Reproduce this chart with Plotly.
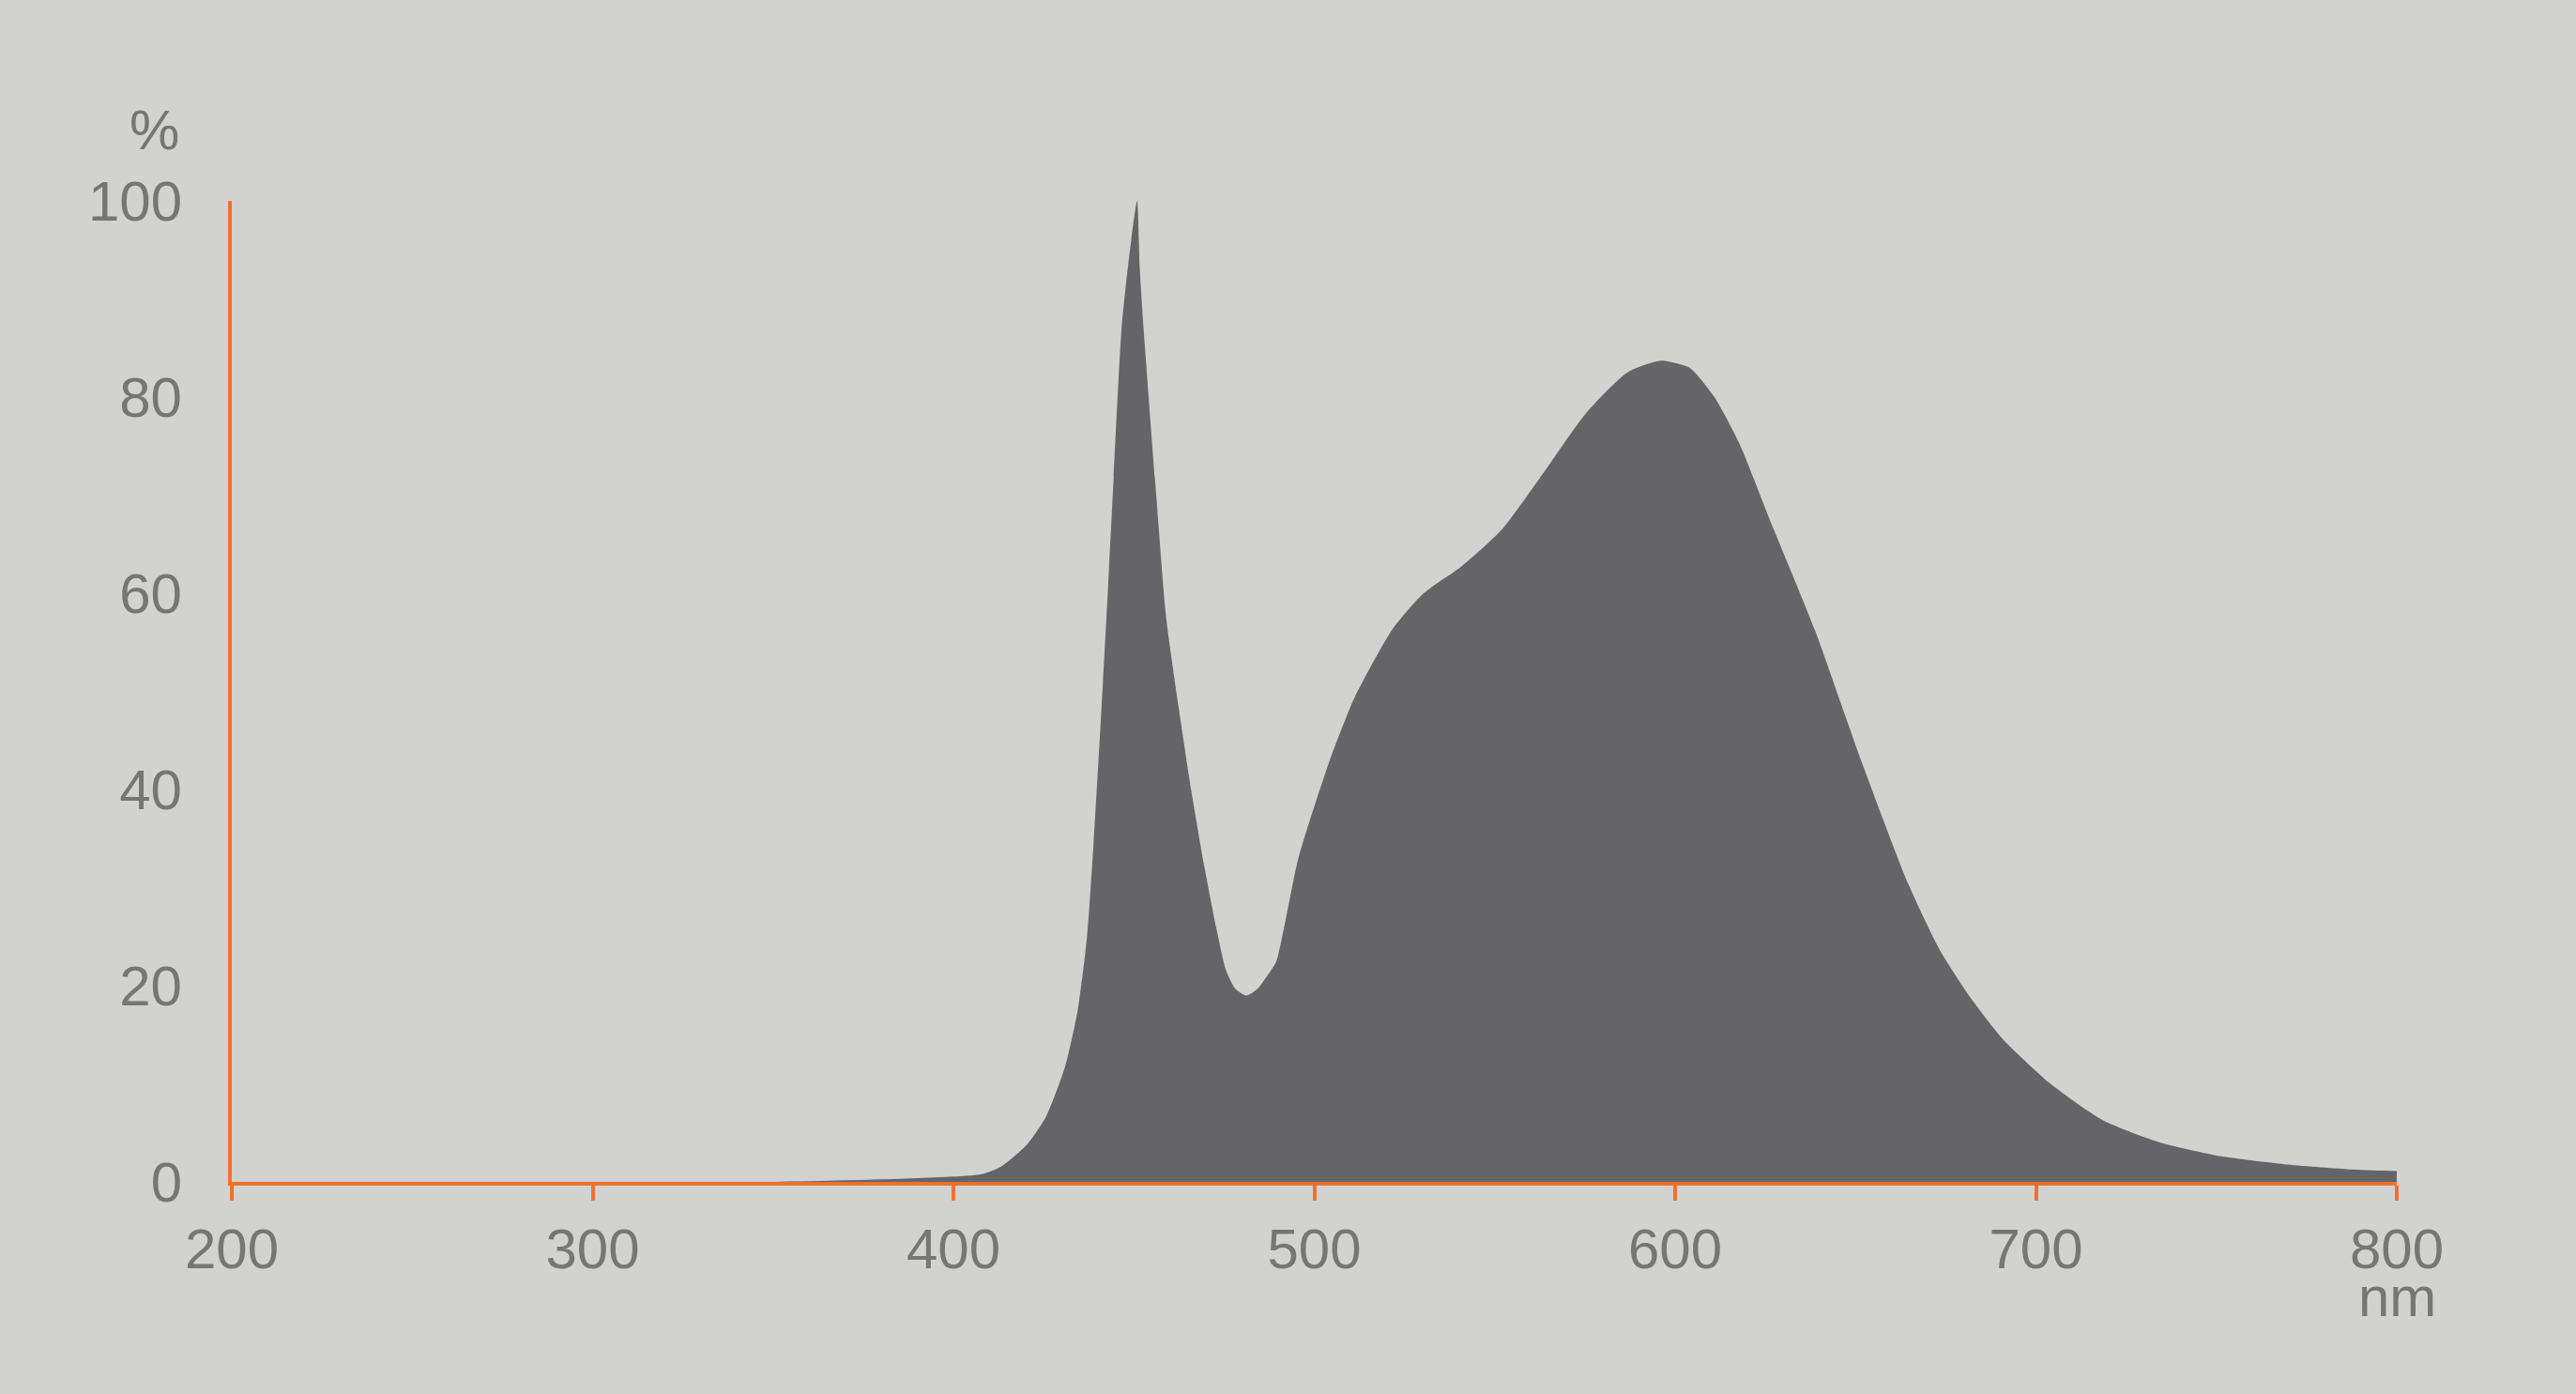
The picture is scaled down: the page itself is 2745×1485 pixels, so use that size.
import plotly.graph_objects as go

# Wavelength (nm) and relative intensity (%)
wavelength = [200, 350, 408, 413.4, 420.4, 425.6, 430.9, 434.4, 437.0, 438.8, 441.4, 443.1,
              444.4, 446.6, 448.4, 450.9, 451.6, 452.7, 456.2, 458.9, 462.4, 465.9, 469.4,
              472.9, 475.5, 478.1, 481.2, 484.3, 487.5, 489.5, 495.6, 504.3, 511.2, 521.6,
              530.3, 540.7, 552.0, 563.0, 575.4, 586.7, 596.0, 604.0, 610.9, 617.9, 625.7,
              638.7, 651.7, 664.7, 673.4, 682.0, 690.7, 703.7, 718.5, 734.1, 751.4, 768.8,
              786.1, 800]
intensity = [0, 0, 0.8, 1.6, 3.8, 6.6, 11.7, 17.4, 24.9, 34.3, 50.7, 62.4,
             71.8, 87.0, 93.4, 100, 93.4, 87.0, 70.0, 57.7, 48.4, 39.9, 32.4,
             25.8, 21.6, 19.7, 19.0, 19.7, 21.3, 22.5, 33.0, 43.0, 49.4, 56.3,
             60.0, 62.7, 66.5, 72.0, 78.4, 82.5, 83.7, 83.0, 80.0, 75.2, 68.0,
             56.3, 42.8, 30.3, 23.6, 18.7, 14.6, 10.1, 6.3, 4.05, 2.6, 1.8,
             1.3, 1.1]

x_ticks = [200, 300, 400, 500, 600, 700, 800]
y_ticks = [0, 20, 40, 60, 80, 100]
y_unit = "%"
x_unit = "nm"

BG = "#d2d2d0"
FILL = "#656567"
ORANGE = "#f0712f"
TEXT = "#767676"
FONT = "Liberation Sans, Arial, sans-serif"

fig = go.Figure()
fig.add_trace(go.Scatter(
    x=wavelength, y=intensity, mode="lines", fill="tozeroy",
    fillcolor=FILL, line=dict(width=0, color=FILL, shape="spline", smoothing=0.6),
    hoverinfo="skip", showlegend=False,
))

fig.update_layout(
    width=2745, height=1485,
    paper_bgcolor=BG, plot_bgcolor=BG,
    margin=dict(l=247, r=191, t=214, b=226, pad=0),
    font=dict(family=FONT, size=60, color=TEXT),
    showlegend=False,
)
fig.update_xaxes(
    range=[200, 800], tickvals=x_ticks, ticktext=[str(v) for v in x_ticks],
    showline=True, linecolor=ORANGE, linewidth=4,
    ticks="outside", ticklen=16, tickwidth=4, tickcolor=ORANGE,
    showgrid=False, zeroline=False, ticklabelstandoff=0,
    tickfont=dict(family=FONT, size=60, color=TEXT),
)
fig.update_yaxes(
    range=[0, 100], tickvals=y_ticks, ticktext=[str(v) for v in y_ticks],
    showline=True, linecolor=ORANGE, linewidth=4,
    ticks="", showgrid=False, zeroline=False, ticklabelstandoff=37,
    tickfont=dict(family=FONT, size=60, color=TEXT),
)

fig.add_annotation(text=y_unit, xref="paper", yref="paper", x=0, y=1,
                   xanchor="right", yanchor="bottom", xshift=-54, yshift=40,
                   showarrow=False, font=dict(family=FONT, size=60, color=TEXT))
fig.add_annotation(text=x_unit, xref="x", yref="paper", x=800, y=0,
                   xanchor="center", yanchor="top", yshift=-87,
                   showarrow=False, font=dict(family=FONT, size=60, color=TEXT))

fig.write_html("out.html", config={"displayModeBar": False},
               post_script="document.body.style.margin='0';document.body.style.overflow='hidden';")
